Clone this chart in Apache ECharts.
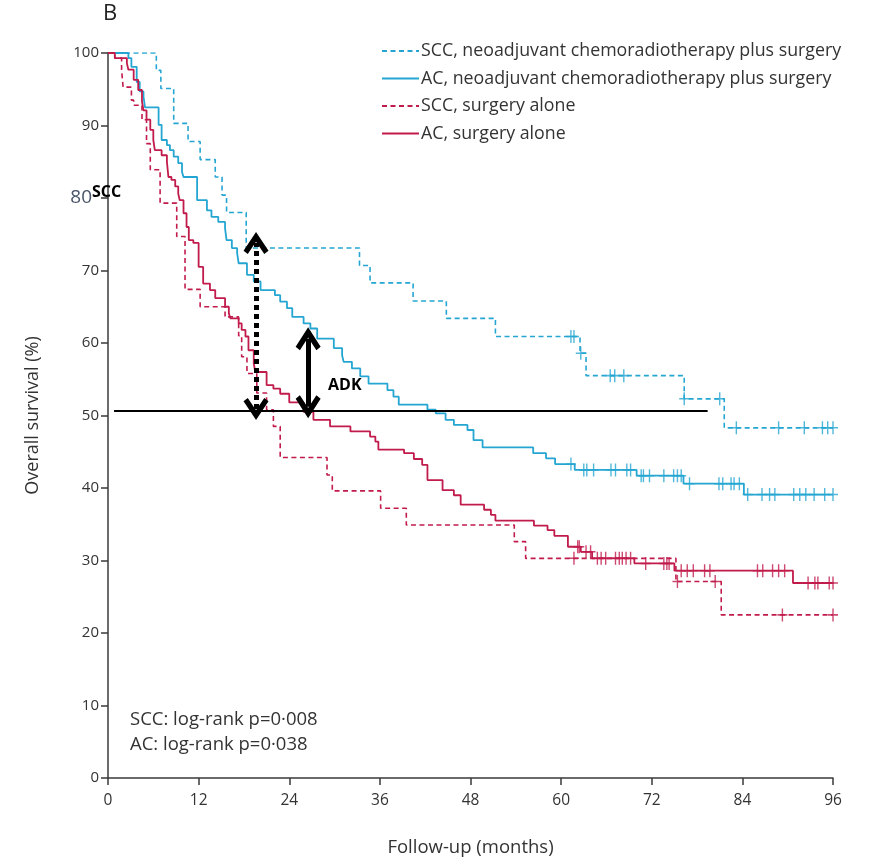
<!DOCTYPE html>
<html>
<head>
<meta charset="utf-8">
<script src="https://cdn.jsdelivr.net/npm/echarts@6/dist/echarts.min.js"></script>
<style>html,body{margin:0;padding:0;background:#fff}#c{width:869px;height:858px}</style>
</head>
<body>
<div id="c"></div>
<script>
// ---- DATA (months, overall survival %) ----
const xTicks = [0, 12, 24, 36, 48, 60, 72, 84, 96];
const yTicks = [0, 10, 20, 30, 40, 50, 60, 70, 80, 90, 100];
const seriesNames = [
  'SCC, neoadjuvant chemoradiotherapy plus surgery',
  'AC, neoadjuvant chemoradiotherapy plus surgery',
  'SCC, surgery alone',
  'AC, surgery alone'
];
const sccCrt = [[0,100],[6.4,97.6],[7.0,95.1],[8.7,90.3],[10.6,87.8],[12.2,85.3],[14.2,82.9],[15.1,80.4],[15.7,78.0],[18.3,73.1],[33.3,70.7],[34.7,68.3],[40.4,65.8],[44.8,63.4],[51.3,60.9],[62.5,58.6],[63.3,55.5],[76.3,52.3],[81.6,48.3],[96,48.3]];
const acCrt = [[0,100],[2.7,99.3],[3.1,98.1],[3.8,96.0],[4.2,94.7],[4.7,94.0],[4.9,92.5],[6.7,90.1],[7.1,88.0],[7.8,87.3],[8.2,86.6],[8.7,85.7],[9.3,84.8],[9.8,83.6],[10.0,82.9],[11.8,79.7],[13.1,78.3],[13.7,77.4],[14.6,76.7],[15.5,75.8],[15.7,74.2],[16.4,73.1],[17.1,72.4],[17.3,71.0],[18.4,69.4],[19.3,68.5],[20.2,67.3],[22.1,66.6],[22.8,65.7],[23.7,64.8],[24.4,63.6],[25.9,62.7],[26.8,62.0],[27.7,60.6],[29.9,59.3],[31.0,58.3],[31.2,57.4],[32.3,56.5],[33.4,55.4],[34.5,54.4],[37.0,53.5],[37.8,52.6],[38.5,51.5],[42.3,50.8],[43.4,50.3],[44.7,49.4],[45.8,48.7],[47.6,48.0],[48.4,46.6],[49.6,45.6],[56.3,44.8],[58.0,44.1],[59.2,43.3],[61.8,42.5],[70.0,41.7],[76.2,40.6],[84.2,39.1],[96,39.1]];
const sccSurg = [[0,100],[0.9,99.3],[1.8,97.7],[2.0,95.3],[3.1,93.5],[3.4,92.8],[4.5,90.8],[5.1,87.5],[5.6,83.9],[6.9,79.3],[9.1,74.7],[10.2,67.4],[12.2,65.0],[15.5,63.6],[17.3,61.0],[17.7,58.1],[18.4,55.8],[19.7,53.1],[21.0,50.8],[21.9,48.5],[22.8,44.2],[29.0,41.8],[29.7,39.6],[36.1,37.2],[39.5,34.9],[53.8,32.6],[55.3,30.3],[75.2,27.1],[81.2,22.5],[96,22.5]];
const acSurg = [[0,100],[0.9,99.3],[2.5,98.6],[2.7,97.7],[3.4,96.3],[4.0,94.9],[4.5,93.3],[4.7,92.1],[5.1,90.8],[5.6,89.4],[6.0,88.0],[6.2,86.6],[7.1,85.9],[7.8,85.0],[8.0,82.9],[8.4,82.5],[8.9,81.6],[9.3,80.6],[9.5,79.7],[10.0,77.9],[10.4,76.0],[10.7,74.2],[11.3,73.8],[12.0,70.5],[12.6,68.2],[13.5,67.3],[14.2,66.2],[15.5,65.0],[16.0,64.1],[16.2,63.4],[17.3,62.7],[17.7,61.8],[18.2,60.9],[18.6,59.0],[19.3,57.2],[19.5,56.0],[21.0,54.2],[21.9,53.7],[22.8,53.0],[24.0,51.8],[25.9,50.5],[27.2,49.4],[29.4,48.5],[32.1,47.8],[34.7,47.1],[35.4,46.4],[35.8,45.3],[39.2,44.8],[40.5,44.0],[41.6,43.2],[42.3,41.1],[44.3,39.7],[45.8,39.0],[46.7,37.7],[49.8,37.0],[50.7,36.3],[51.3,35.5],[56.4,34.8],[58.2,34.2],[59.1,33.4],[60.9,31.9],[62.6,31.2],[64.1,30.3],[69.7,29.6],[75.0,28.6],[90.7,26.9],[96,26.9]];
// censoring times (months)
const sccCrtCens = [61.3,61.7,62.6,66.5,67.1,68.3,76.3,81.0,83.2,88.8,92.2,94.6,95.3,96.0];
const acCrtCens = [61.3,63.0,63.4,64.3,66.6,67.2,68.7,69.2,70.6,70.9,71.7,73.6,74.9,75.4,75.9,77.0,80.9,81.4,82.5,82.9,83.6,84.7,86.6,87.6,88.3,90.8,91.6,92.4,93.5,94.9,96.0];
const sccSurgCens = [61.7,75.4,80.4,89.3,96.0];
const acSurgCens = [62.2,62.4,63.3,63.9,64.8,65.3,65.9,67.2,67.7,68.1,68.6,69.2,71.2,73.6,74.0,74.3,75.9,76.7,77.5,79.0,79.7,86.0,86.7,88.0,88.8,89.6,92.7,93.6,94.0,95.5,96.0];
// annotations (data units)
const refLine = [[0.8, 50.6], [79.4, 50.6]];
const dottedArrow = [[19.6, 50.9], [19.6, 73.8]];
const solidArrow = [[26.5, 51.2], [26.5, 60.6]];

// ---- STYLE ----
const BLUE = '#25a6d2';
const RED = '#c11b4c';
const FONT = '"Open Sans", Lato, sans-serif';
const DASH = [5, 3.5];
const crossPath = 'path://M4.3,0 L5.7,0 L5.7,5.3 L10,5.3 L10,6.7 L5.7,6.7 L5.7,12 L4.3,12 L4.3,6.7 L0,6.7 L0,5.3 L4.3,5.3 Z';
const chevron = 'path://M10,0 L20,14.5 L16.6,17 L10,7.6 L3.4,17 L0,14.5 Z';

function survAt(curve, t) {
  let v = curve[0][1];
  for (const p of curve) { if (p[0] <= t + 1e-9) v = p[1]; else break; }
  return v;
}
function censPts(curve, times) { return times.map(t => [t, survAt(curve, t)]); }

function kmSeries(name, data, color, dashed, extra) {
  return Object.assign({
    name, type: 'line', step: 'end', data, symbol: 'none', silent: true,
    lineStyle: { color, width: dashed ? 1.6 : 1.8, type: dashed ? DASH : 'solid' },
    itemStyle: { color }, z: 3
  }, extra || {});
}
function censSeries(curve, times, color) {
  return {
    type: 'scatter', data: censPts(curve, times), symbol: crossPath, symbolSize: [10, 13],
    itemStyle: { color }, silent: true, z: 4
  };
}

const chart = echarts.init(document.getElementById('c'), null, { renderer: 'canvas' });
chart.setOption({
  animation: false,
  backgroundColor: '#fff',
  grid: { left: 108, right: 36, top: 53, bottom: 80, containLabel: false, outerBoundsMode: 'none' },
  legend: {
    data: seriesNames, orient: 'vertical', left: 376, top: 37,
    itemWidth: 37, itemHeight: 14, itemGap: 9.5,
    itemStyle: { opacity: 0, borderWidth: 0 },
    textStyle: { fontFamily: FONT, fontSize: 17.8, color: '#333', padding: [0, 0, 0, -3] },
    selectedMode: false
  },
  xAxis: {
    type: 'value', min: 0, max: 96, interval: 12,
    name: 'Follow-up (months)', nameLocation: 'middle', nameGap: 60,
    nameTextStyle: { fontFamily: FONT, fontSize: 18.5, color: '#333' },
    axisLine: { show: true, lineStyle: { color: '#3a3a3a', width: 1.5 } },
    axisTick: { show: true, length: 7, lineStyle: { color: '#3a3a3a', width: 1.5 } },
    axisLabel: { fontFamily: FONT, fontSize: 15.5, color: '#333', margin: 15,
      formatter: v => (xTicks.includes(v) ? String(v) : '') },
    splitLine: { show: false }
  },
  yAxis: {
    type: 'value', min: 0, max: 100, interval: 10,
    name: 'Overall survival (%)', nameLocation: 'middle', nameGap: 66, nameRotate: 90,
    nameTextStyle: { fontFamily: FONT, fontSize: 18, color: '#333' },
    axisLine: { show: true, lineStyle: { color: '#3a3a3a', width: 1.5 } },
    axisTick: { show: true, length: 7, lineStyle: { color: '#3a3a3a', width: 1.5 } },
    axisLabel: { fontFamily: FONT, fontSize: 15, color: '#333', margin: 9,
      formatter: v => (v === 80 ? '{s|80}' : (yTicks.includes(v) ? String(v) : '')),
      rich: { s: { fontFamily: '"Open Sans", sans-serif', fontSize: 19, color: '#4a5568', padding: [0, 7, 0, 0] } } },
    splitLine: { show: false }
  },
  series: [
    kmSeries(seriesNames[0], sccCrt, BLUE, true),
    kmSeries(seriesNames[1], acCrt, BLUE, false, {
      markLine: {
        silent: true, animation: false, symbol: 'none', label: { show: false },
        data: [
          [{ coord: refLine[0], symbol: 'none', lineStyle: { color: '#000', width: 2, type: 'solid' } },
           { coord: refLine[1], symbol: 'none' }],
          [{ coord: dottedArrow[0], symbol: chevron, symbolSize: [25, 22],
             lineStyle: { color: '#000', width: 5, type: [5, 4], cap: 'butt' } },
           { coord: dottedArrow[1], symbol: chevron, symbolSize: [25, 22] }],
          [{ coord: solidArrow[0], symbol: chevron, symbolSize: [25, 23],
             lineStyle: { color: '#000', width: 5, type: 'solid' } },
           { coord: solidArrow[1], symbol: chevron, symbolSize: [25, 23] }]
        ],
        itemStyle: { color: '#000' }
      }
    }),
    kmSeries(seriesNames[2], sccSurg, RED, true),
    kmSeries(seriesNames[3], acSurg, RED, false),
    censSeries(sccCrt, sccCrtCens, BLUE),
    censSeries(acCrt, acCrtCens, BLUE),
    censSeries(sccSurg, sccSurgCens, RED),
    censSeries(acSurg, acSurgCens, RED)
  ],
  graphic: [
    { type: 'text', left: 103, top: 3, style: { text: 'B', font: '22px ' + FONT, fill: '#222' } },
    { type: 'text', x: 92, y: 192, style: { text: 'SCC', font: 'bold 16px "Open Sans", sans-serif', fill: '#000', textVerticalAlign: 'middle' }, z: 10 },
    { type: 'text', x: 328, y: 385, style: { text: 'ADK', font: 'bold 16px "Open Sans", sans-serif', fill: '#000', textVerticalAlign: 'middle' }, z: 10 },
    { type: 'text', x: 130, y: 720, style: { text: 'SCC: log-rank p=0·008', font: '18.5px ' + FONT, fill: '#333', textVerticalAlign: 'middle' } },
    { type: 'text', x: 130, y: 745, style: { text: 'AC: log-rank p=0·038', font: '18.5px ' + FONT, fill: '#333', textVerticalAlign: 'middle' } }
  ]
});
</script>
</body>
</html>
